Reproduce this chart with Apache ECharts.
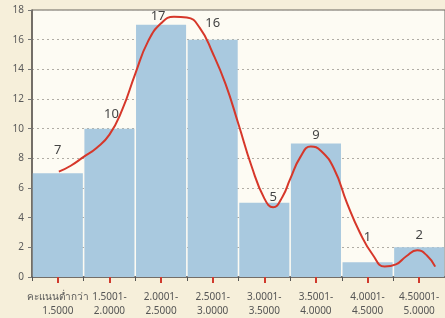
<!DOCTYPE html>
<html>
<head>
<meta charset="utf-8">
<script src="https://cdn.jsdelivr.net/npm/echarts@6/dist/echarts.min.js"></script>
<style>
	html, body { margin: 0; padding: 0; background: #f6efda; }
	#chart { width: 445px; height: 318px; }
</style>
</head>
<body>
<div id="chart"></div>
<script>
// ช่วงคะแนน
var categories = ['คะแนนต่ำกว่า\n1.5000', '1.5001-\n2.0000', '2.0001-\n2.5000', '2.5001-\n3.0000',
	'3.0001-\n3.5000', '3.5001-\n4.0000', '4.0001-\n4.5000', '4.50001-\n5.0000'];
var counts = [7, 10, 17, 16, 5, 9, 1, 2];

// red curve: position in category units / value
var curveX = [0.52, 0.75, 1.0, 1.25, 1.5, 1.75, 2.0, 2.25, 2.5, 2.75, 3.0, 3.25, 3.5, 3.75, 4.0, 4.25, 4.5, 4.67, 4.85,
	5.0, 5.2, 5.4, 5.6, 5.85, 6.1, 6.35, 6.6, 6.83, 7.05, 7.25, 7.46, 7.65, 7.81];
var curveY = [7.1, 7.5, 8.1, 8.7, 9.6, 11.3, 13.7, 15.9, 17.1, 17.55, 17.5, 16.8, 15.1, 13.0, 10.3, 7.5, 5.3, 4.7, 5.4,
	6.6, 8.1, 8.8, 8.5, 7.3, 5.0, 3.0, 1.5, 0.7, 0.85, 1.4, 1.8, 1.45, 0.7];

var yTicks = [0, 2, 4, 6, 8, 10, 12, 14, 16, 18];

var chart = echarts.init(document.getElementById('chart'));

var curve = [];
for (var i = 0; i < curveX.length; i++) {
	curve.push([curveX[i], curveY[i]]);
}

// label nudges so the numbers sit where the original has them
var labelShift = [[0, -10], [2, -2], [-3, 4], [0, -4], [9, 7], [0, 4], [0, -12], [0, 0]];
var bars = [];
for (var j = 0; j < counts.length; j++) {
	bars.push({ value: counts[j], label: { offset: labelShift[j] } });
}

var option = {
	animation: false,
	backgroundColor: '#f6efda',
	grid: {
		left: 32,
		top: 10,
		right: -3,
		bottom: 41,
		show: true,
		backgroundColor: '#fdfbf3',
		borderColor: '#6b6660',
		borderWidth: 1
	},
	xAxis: [{
		type: 'category',
		data: categories,
		axisLine: { show: false },
		axisTick: { show: false },
		axisLabel: {
			interval: 0,
			margin: 13,
			color: '#555',
			fontSize: 10,
			lineHeight: 14,
			fontFamily: 'Noto Sans, DejaVu Sans, sans-serif'
		}
	}, {
		type: 'value',
		min: 0,
		max: 8,
		interval: 1,
		position: 'bottom',
		axisLine: { show: true, lineStyle: { color: '#5f5a55', width: 1.5 } },
		axisTick: { show: true, length: 4, lineStyle: { color: '#555' } },
		minorTick: { show: true, splitNumber: 2, length: 6, lineStyle: { color: '#d03a2c', width: 2 } },
		axisLabel: { show: false },
		splitLine: { show: false }
	}],
	yAxis: {
		type: 'value',
		min: yTicks[0],
		max: yTicks[yTicks.length - 1],
		interval: 2,
		axisLine: { show: true, lineStyle: { color: '#5f5a55', width: 1.5 } },
		axisTick: { show: true, length: 4, lineStyle: { color: '#777' } },
		axisLabel: { color: '#5a5a5a', fontSize: 10, margin: 8, fontFamily: 'Noto Sans, sans-serif' },
		splitLine: { show: true, lineStyle: { color: '#b0aca4', type: [2, 3], width: 1 } }
	},
	series: [{
		name: 'จำนวน',
		type: 'bar',
		xAxisIndex: 0,
		barWidth: '97%',
		data: bars,
		itemStyle: { color: '#a9c9df' },
		label: {
			show: true,
			position: 'top',
			distance: 6,
			color: '#444',
			fontSize: 13,
			fontFamily: 'Noto Sans, sans-serif'
		}
	}, {
		name: 'curve',
		type: 'line',
		xAxisIndex: 1,
		smooth: 0.5,
		showSymbol: false,
		data: curve,
		lineStyle: { color: '#d6372a', width: 2 },
		z: 5
	}]
};
chart.setOption(option);
</script>
</body>
</html>
